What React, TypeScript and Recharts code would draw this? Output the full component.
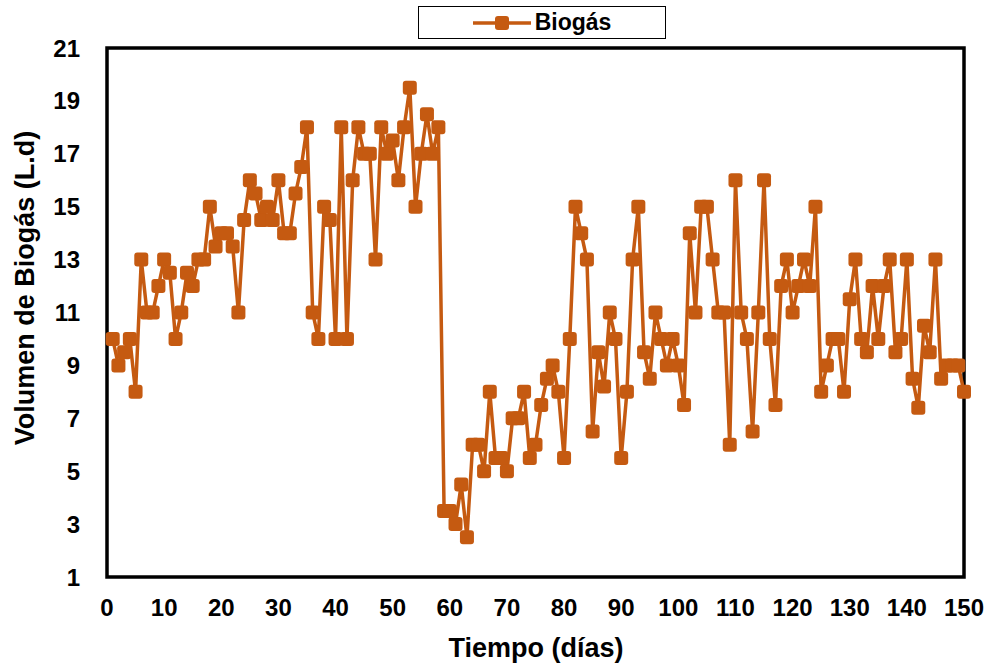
import { LineChart, Line, XAxis, YAxis, ReferenceArea } from 'recharts'

// producción diaria de biogás (L.d), día 1..150
const biogas = [
  10, 9, 9.5, 10, 8, 13, 11, 11, 12, 13,
  12.5, 10, 11, 12.5, 12, 13, 13, 15, 13.5, 14,
  14, 13.5, 11, 14.5, 16, 15.5, 14.5, 15, 14.5, 16,
  14, 14, 15.5, 16.5, 18, 11, 10, 15, 14.5, 10,
  18, 10, 16, 18, 17, 17, 13, 18, 17, 17.5,
  16, 18, 19.5, 15, 17, 18.5, 17, 18, 3.5, 3.5,
  3, 4.5, 2.5, 6, 6, 5, 8, 5.5, 5.5, 5,
  7, 7, 8, 5.5, 6, 7.5, 8.5, 9, 8, 5.5,
  10, 15, 14, 13, 6.5, 9.5, 8.2, 11, 10, 5.5,
  8, 13, 15, 9.5, 8.5, 11, 10, 9, 10, 9,
  7.5, 14, 11, 15, 15, 13, 11, 11, 6, 16,
  11, 10, 6.5, 11, 16, 10, 7.5, 12, 13, 11,
  12, 13, 12, 15, 8, 9, 10, 10, 8, 11.5,
  13, 10, 9.5, 12, 10, 12, 13, 9.5, 10, 13,
  8.5, 7.4, 10.5, 9.5, 13, 8.5, 9, 9, 9, 8,
]

const xTicks = [0, 10, 20, 30, 40, 50, 60, 70, 80, 90, 100, 110, 120, 130, 140, 150]
const yTicks = [1, 3, 5, 7, 9, 11, 13, 15, 17, 19, 21]

const data = biogas.map((v, i) => ({ dia: i + 1, biogas: v }))

const ORANGE = '#C55A11'
const FONT = '"Liberation Sans", Arial, sans-serif'

function SquareDot(props: any) {
  const { cx, cy, index } = props
  if (cx == null || cy == null) return null
  return <rect key={index} x={cx - 7} y={cy - 7} width={14} height={14} rx={3} fill={ORANGE} />
}

export default function App() {
  const tickStyle = { fontSize: 24, fontWeight: 700, fill: '#000', fontFamily: FONT }
  return (
    <div style={{ position: 'absolute', left: 0, top: 0, width: 992, height: 666, background: '#fff', fontFamily: FONT }}>
      <LineChart width={992} height={666} data={data} margin={{ top: 48, right: 28, bottom: 0, left: 47 }}>
        <XAxis
          dataKey="dia"
          type="number"
          domain={[0, 150]}
          ticks={xTicks}
          tickLine={false}
          axisLine={false}
          tick={tickStyle}
          tickMargin={16}
          height={89}
        />
        <YAxis
          type="number"
          domain={[1, 21]}
          ticks={yTicks}
          tickLine={false}
          axisLine={false}
          tick={tickStyle}
          tickMargin={21}
          width={60}
        />
        <Line
          type="linear"
          dataKey="biogas"
          stroke={ORANGE}
          strokeWidth={3.5}
          dot={<SquareDot />}
          activeDot={false}
          isAnimationActive={false}
        />
        <ReferenceArea x1={0} x2={150} y1={1} y2={21} fill="none" fillOpacity={0} stroke="#000" strokeWidth={3.5} ifOverflow="visible" />
      </LineChart>

      <div
        style={{
          position: 'absolute',
          left: 25,
          top: 288,
          transform: 'translate(-50%, -50%) rotate(-90deg)',
          whiteSpace: 'nowrap',
          fontSize: 27,
          fontWeight: 700,
        }}
      >
        Volumen de Biogás (L.d)
      </div>
      <div
        style={{
          position: 'absolute',
          left: 536,
          top: 648,
          transform: 'translate(-50%, -50%)',
          whiteSpace: 'nowrap',
          fontSize: 27,
          fontWeight: 700,
        }}
      >
        Tiempo (días)
      </div>

      <div
        style={{
          position: 'absolute',
          left: 418,
          top: 6,
          width: 248,
          height: 33,
          border: '1.5px solid #000',
          display: 'flex',
          alignItems: 'center',
          justifyContent: 'center',
          boxSizing: 'border-box',
          background: '#fff',
        }}
      >
        <svg width={58} height={20} style={{ marginRight: 4 }}>
          <line x1={0} y1={10} x2={58} y2={10} stroke={ORANGE} strokeWidth={3.5} />
          <rect x={22} y={3} width={14} height={14} rx={3} fill={ORANGE} />
        </svg>
        <span style={{ fontSize: 23, fontWeight: 700 }}>Biogás</span>
      </div>
    </div>
  )
}
